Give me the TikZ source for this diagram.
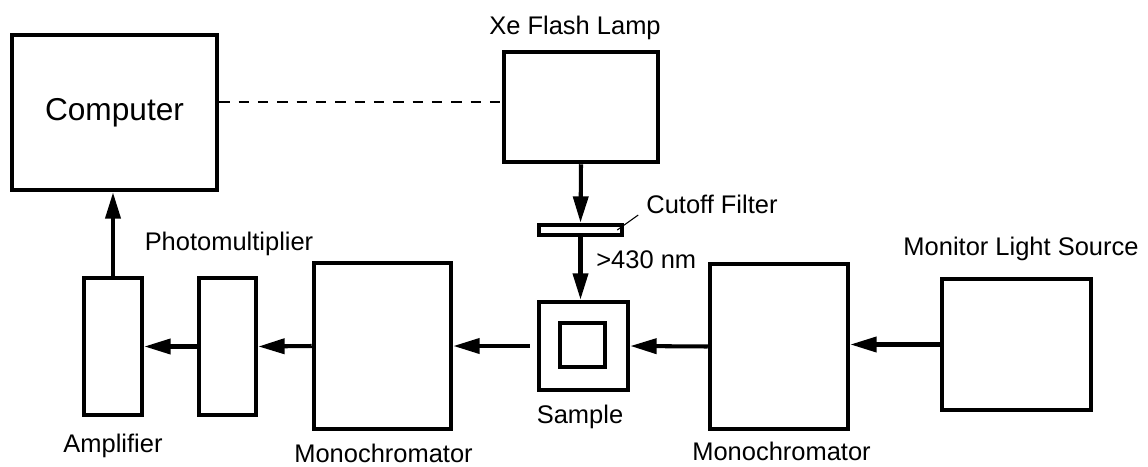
\documentclass[tikz,border=0pt]{standalone}
\usepackage{fontspec}
\setmainfont{Liberation Sans}
\usetikzlibrary{arrows.meta,positioning}

\begin{document}
\begin{tikzpicture}[x=0.02cm,y=-0.02cm,>={Triangle[length=15pt,width=8.5pt]},
 unit/.style={draw,line width=2.3pt,inner sep=0pt},
 lbl/.style={font=\fontsize{14.5}{17}\selectfont,inner sep=0pt,anchor=base},
 flow/.style={->,line width=2.3pt},
 trigger/.style={line width=0.9pt,dash pattern=on 6pt off 5pt}]
\useasboundingbox (0,0) rectangle (1148,466);
% units
\node[unit,minimum width=4.11cm,minimum height=3.11cm,
      font=\fontsize{18}{21}\selectfont] (comp) at (114.5,112.5) {Computer};
\node[unit,minimum width=3.09cm,minimum height=2.21cm] (lamp) at (581,107) {};
\node[unit,minimum width=1.67cm,minimum height=0.21cm] (filt) at (580.5,230) {};
\node[unit,minimum width=1.79cm,minimum height=1.77cm] (samp) at (583.5,346) {};
\node[unit,minimum width=0.91cm,minimum height=0.89cm] (sampin) at (582.5,345) {};
\node[unit,minimum width=1.17cm,minimum height=2.75cm] (amp) at (113,346.5) {};
\node[unit,minimum width=1.15cm,minimum height=2.75cm] (pmt) at (227.5,346.5) {};
\node[unit,minimum width=2.75cm,minimum height=3.33cm] (monoA) at (382.5,346) {};
\node[unit,minimum width=2.77cm,minimum height=3.31cm] (monoB) at (779,346.5) {};
\node[unit,minimum width=2.99cm,minimum height=2.63cm] (mon) at (1016.5,344.5) {};
% labels
\node[lbl] (lampLbl) at (575,35) {Xe Flash Lamp};
\node[lbl,anchor=base west] (filtLbl) at (646,213) {Cutoff Filter};
\node[lbl,anchor=base west] (cutLbl) at (596,268) {>430 nm};
\node[lbl] (pmtLbl) at (229,250) {Photomultiplier};
\node[lbl] (ampLbl) at (113,452) {Amplifier};
\node[lbl] (monoALbl) at (383.5,462) {Monochromator};
\node[lbl] (sampLbl) at (580,423) {Sample};
\node[lbl] (monoBLbl) at (781.5,460) {Monochromator};
\node[lbl] (monLbl) at (1021,255) {Monitor Light Source};
% connections
\coordinate (trig) at ([yshift=2.8pt]lamp.west);
\draw[trigger] (trig -| comp.east) -- (trig);
\draw[line width=0.6pt] ([xshift=-4pt]filt.east) -- ++(21,-15);
\draw[flow] (lamp.south) -- (filt.north);
\draw[flow] (filt.south) -- (filt.south |- samp.north);
\draw[flow] (mon.west) -- (mon.west -| monoB.east);
\draw[flow] (monoB.west) -- (samp.east);
\draw[flow,shorten <=4pt] (samp.west) -- (monoA.east);
\draw[flow] (monoA.west) -- (pmt.east);
\draw[flow] (pmt.west) -- (amp.east);
\draw[flow] (amp.north) -- (amp.north |- comp.south);
\end{tikzpicture}
\end{document}
